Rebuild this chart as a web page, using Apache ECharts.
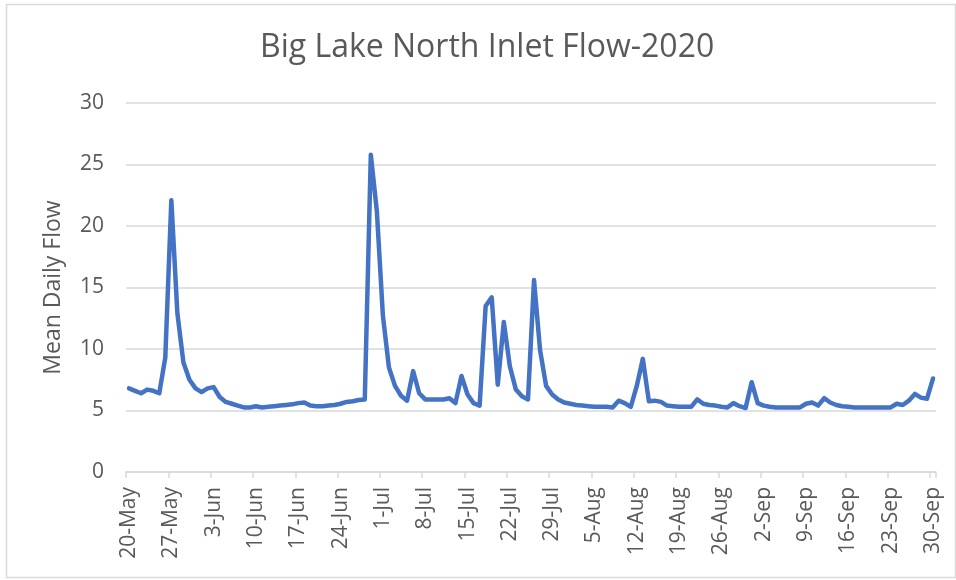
<!DOCTYPE html>
<html>
<head>
<meta charset="utf-8">
<title>Big Lake North Inlet Flow-2020</title>
<script src="https://cdn.jsdelivr.net/npm/echarts@6/dist/echarts.min.js"></script>
<style>
  html, body { margin: 0; padding: 0; background: #fff; }
  #chart { width: 956px; height: 580px; }
</style>
</head>
<body>
<div id="chart"></div>
<script>
// first day of the record, one value per day up to 30-Sep
const startDate = [2020, 4, 20]
const monthNames = ['Jan', 'Feb', 'Mar', 'Apr', 'May', 'Jun', 'Jul', 'Aug', 'Sep', 'Oct', 'Nov', 'Dec']

// mean daily flow, 20-May .. 30-Sep
const mayFlow = [6.8, 6.6, 6.4, 6.7, 6.6, 6.4, 9.3, 22.1, 12.9, 8.9, 7.5, 6.8]
const junFlow = [6.5, 6.8, 6.9, 6.1, 5.7, 5.55, 5.4, 5.25, 5.25, 5.35,
  5.25, 5.3, 5.35, 5.4, 5.45, 5.5, 5.6, 5.65, 5.4, 5.35,
  5.35, 5.4, 5.45, 5.55, 5.7, 5.75, 5.85, 5.9, 25.8, 21.2]
const julFlow = [12.7, 8.5, 7.0, 6.2, 5.8, 8.2, 6.4, 5.9, 5.9, 5.9,
  5.9, 6.0, 5.6, 7.8, 6.3, 5.6, 5.4, 13.5, 14.2, 7.1,
  12.2, 8.6, 6.7, 6.15, 5.9, 15.6, 9.9, 7.0, 6.3, 5.9, 5.65]
const augFlow = [5.55, 5.45, 5.4, 5.35, 5.3, 5.3, 5.3, 5.25, 5.8, 5.6,
  5.3, 7.0, 9.2, 5.75, 5.8, 5.7, 5.4, 5.35, 5.3, 5.3,
  5.3, 5.9, 5.55, 5.45, 5.4, 5.3, 5.25, 5.6, 5.35, 5.2, 7.3]
const sepFlow = [5.6, 5.4, 5.3, 5.25, 5.25, 5.25, 5.25, 5.25, 5.55, 5.65,
  5.4, 6.0, 5.65, 5.45, 5.35, 5.3, 5.25, 5.25, 5.25, 5.25,
  5.25, 5.25, 5.25, 5.55, 5.45, 5.8, 6.35, 6.05, 5.95, 7.6]

const flowData = [].concat(mayFlow, junFlow, julFlow, augFlow, sepFlow)

// day labels like 20-May, 3-Jun
const dayLabels = flowData.map(function (v, i) {
  const d = new Date(startDate[0], startDate[1], startDate[2] + i)
  return d.getDate() + '-' + monthNames[d.getMonth()]
})

const yTicks = { min: 0, max: 30, step: 5 }

const textGrey = '#595959'
const lineGrey = '#d9d9d9'
const font = 'Open Sans'

const chart = echarts.init(document.getElementById('chart'), null, { renderer: 'canvas' })

chart.setOption({
  animation: false,
  backgroundColor: '#fff',
  title: {
    text: 'Big Lake North Inlet Flow-2020',
    left: 255,
    top: 27,
    textStyle: {
      fontFamily: font,
      fontSize: 32,
      fontWeight: 'normal',
      color: textGrey
    }
  },
  graphic: [{
    type: 'rect',
    silent: true,
    shape: { x: 6.5, y: 4.5, width: 949, height: 573 },
    style: { fill: 'none', stroke: lineGrey, lineWidth: 1.5 }
  }],
  grid: {
    left: 126,
    right: 20,
    top: 103,
    bottom: 108
  },
  xAxis: {
    type: 'category',
    data: dayLabels,
    boundaryGap: true,
    axisLine: { show: true, lineStyle: { color: lineGrey, width: 1.5 } },
    axisTick: {
      show: true,
      interval: 6,
      length: 6,
      lineStyle: { color: lineGrey, width: 1.5 }
    },
    axisLabel: {
      interval: 6,
      rotate: 90,
      margin: 15,
      fontFamily: font,
      fontSize: 21,
      color: textGrey
    },
    splitLine: { show: false }
  },
  yAxis: {
    type: 'value',
    min: yTicks.min,
    max: yTicks.max,
    interval: yTicks.step,
    name: 'Mean Daily Flow',
    nameLocation: 'middle',
    nameGap: 61,
    nameTextStyle: {
      fontFamily: font,
      fontSize: 23,
      color: textGrey
    },
    axisLine: { show: false },
    axisTick: { show: false },
    axisLabel: {
      margin: 22,
      fontFamily: font,
      fontSize: 21,
      color: textGrey
    },
    splitLine: { lineStyle: { color: lineGrey, width: 1.5 } }
  },
  series: [{
    name: 'Mean Daily Flow',
    type: 'line',
    data: flowData,
    showSymbol: false,
    symbol: 'none',
    smooth: false,
    lineStyle: {
      color: '#4472C4',
      width: 4.5,
      cap: 'round',
      join: 'round'
    }
  }]
})
</script>
</body>
</html>
